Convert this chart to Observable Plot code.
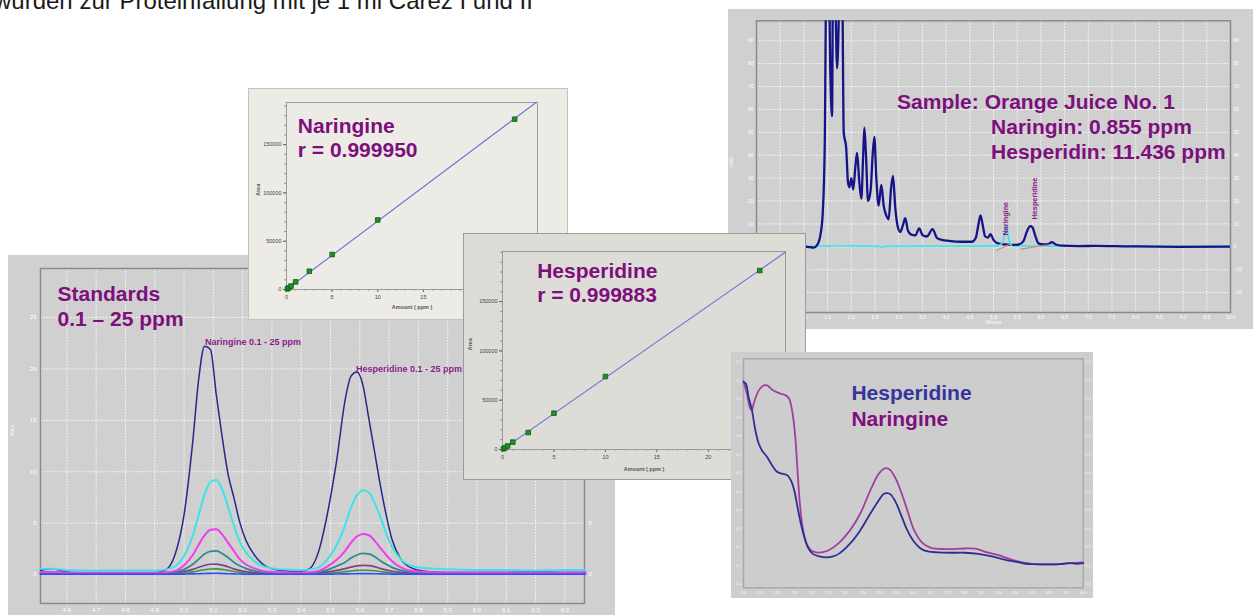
<!DOCTYPE html>
<html><head><meta charset="utf-8">
<script src="https://cdn.jsdelivr.net/npm/d3@7"></script>
<script src="https://cdn.jsdelivr.net/npm/@observablehq/plot@0.6"></script>
<style>
html,body{margin:0;padding:0;background:#fff;}
body{width:1253px;height:615px;overflow:hidden;position:relative;font-family:"Liberation Sans",Arial,sans-serif;}
.panel{position:absolute;overflow:hidden;}
.panel svg{display:block;}
#caption{position:absolute;left:0;top:0;}
</style></head><body>
<svg id="caption" width="620" height="20"><text x="-6" y="8.5" font-family="Liberation Sans, Arial, sans-serif" font-size="24" fill="#1a1a1a">wurden zur Proteinfällung mit je 1 ml Carez I und II</text></svg>
<div class="panel" id="std" style="left:8px;top:255px;width:607px;height:360px;background:#d0d0d0;z-index:1"></div>
<div class="panel" id="nar" style="left:248px;top:88px;width:320px;height:232px;background:#ecebe6;box-shadow:inset 0 0 0 1px #c2c2c0;z-index:2"></div>
<div class="panel" id="sample" style="left:728px;top:9px;width:525px;height:320px;background:#d0d0d0;z-index:2"></div>
<div class="panel" id="hes" style="left:463px;top:233px;width:343px;height:247px;background:#dddcd7;box-shadow:inset 0 0 0 1px #9c9c9c;z-index:3"></div>
<div class="panel" id="uv" style="left:731px;top:352px;width:362px;height:246px;background:#cdcdcd;z-index:4"></div>
<script>
// ---------- data ----------
const stdTime = [4.51,4.55,4.6,4.7,4.8,4.9,4.94,4.97,5.0,5.03,5.05,5.07,5.09,5.11,5.13,5.15,5.17,5.19,5.21,5.24,5.28,5.33,5.4,5.43,5.46,5.49,5.52,5.55,5.57,5.59,5.61,5.63,5.65,5.67,5.69,5.71,5.74,5.78,5.83,5.9,6.0,6.1,6.2,6.3,6.37];
const std25ppm = [0.4,0.55,0.25,0.1,0.1,0.15,0.5,2.0,5.8,13.0,19.0,22.2,21.9,17.5,13.4,9.8,7.5,5.1,3.4,1.9,0.8,0.4,0.3,0.6,2.3,6.0,10.9,17.0,19.3,19.7,18.5,15.3,12.0,8.7,5.8,3.4,1.5,0.6,0.3,0.2,0.2,0.2,0.3,0.2,0.2];
const std10ppm = [0.55,0.55,0.45,0.4,0.4,0.4,0.5,0.8,1.8,3.8,5.8,7.8,9.0,9.2,8.3,6.6,4.8,3.2,2.2,1.3,0.7,0.5,0.45,0.5,0.7,1.5,2.8,4.8,6.5,7.7,8.2,8.0,7.0,5.6,4.0,2.7,1.5,0.8,0.6,0.5,0.45,0.45,0.4,0.45,0.45];
const std5ppm = [0.25,0.25,0.2,0.2,0.2,0.2,0.22,0.35,0.9,1.9,2.9,3.8,4.35,4.4,3.9,3.1,2.3,1.5,1.0,0.6,0.3,0.22,0.2,0.22,0.35,0.8,1.4,2.3,3.1,3.7,3.95,3.85,3.3,2.6,1.9,1.3,0.7,0.35,0.25,0.2,0.2,0.2,0.2,0.2,0.2];
const std2p5ppm = [0.15,0.15,0.15,0.15,0.15,0.15,0.17,0.25,0.5,1.0,1.5,2.0,2.25,2.3,2.05,1.65,1.2,0.85,0.6,0.35,0.2,0.15,0.15,0.16,0.25,0.45,0.8,1.2,1.6,1.9,2.05,2.0,1.75,1.35,1.0,0.7,0.4,0.2,0.15,0.15,0.15,0.15,0.15,0.15,0.15];
const std1ppm = [0.1,0.1,0.1,0.1,0.1,0.1,0.12,0.17,0.3,0.5,0.7,0.88,1.0,1.02,0.92,0.75,0.55,0.4,0.28,0.18,0.12,0.1,0.1,0.1,0.15,0.25,0.4,0.58,0.72,0.84,0.88,0.86,0.76,0.6,0.45,0.32,0.2,0.12,0.1,0.1,0.1,0.1,0.1,0.1,0.1];
const std0p5ppm = [0.05,0.05,0.05,0.05,0.05,0.05,0.06,0.09,0.15,0.26,0.37,0.47,0.54,0.55,0.5,0.4,0.3,0.21,0.14,0.09,0.06,0.05,0.05,0.05,0.08,0.12,0.19,0.28,0.34,0.4,0.42,0.41,0.36,0.29,0.21,0.15,0.09,0.06,0.05,0.05,0.05,0.05,0.05,0.05,0.05];
const std0p1ppm = [0.02,0.02,0.02,0.02,0.02,0.02,0.02,0.03,0.04,0.06,0.08,0.1,0.11,0.12,0.1,0.08,0.06,0.05,0.03,0.02,0.02,0.02,0.02,0.02,0.03,0.03,0.05,0.06,0.07,0.08,0.09,0.09,0.08,0.06,0.05,0.04,0.03,0.02,0.02,0.02,0.02,0.02,0.02,0.02,0.02];
const stdTickLabels = [4.6,4.7,4.8,4.9,5.0,5.1,5.2,5.3,5.4,5.5,5.6,5.7,5.8,5.9,6.0,6.1,6.2,6.3];
const stdYTicks = [0,5,10,15,20,25];

const calibAmounts = [0.1,0.25,0.5,1,2.5,5,10,25];
const naringineAreas = [700,1800,3600,7900,18900,36200,72000,176300];
const hesperidineAreas = [700,1800,3600,7500,17200,36800,74000,181500];
const calibXTicks = [0,5,10,15,20,25];
const calibYTicks = [0,50000,100000,150000];

const sampleTime = [0,0.5,1.0,1.074,1.208,1.278,1.348,1.397,1.44,1.475,1.524,1.559,1.594,1.615,1.65,1.7,1.77,1.805,1.84,1.861,1.889,1.931,1.96,2.0,2.04,2.086,2.121,2.17,2.212,2.247,2.275,2.31,2.353,2.409,2.45,2.486,2.528,2.577,2.633,2.683,2.732,2.788,2.837,2.879,2.928,2.978,3.034,3.083,3.139,3.195,3.265,3.35,3.434,3.504,3.596,3.715,3.806,3.912,4.052,4.333,4.544,4.628,4.684,4.726,4.768,4.824,4.881,4.937,5.0,5.091,5.246,5.386,5.527,5.632,5.702,5.772,5.822,5.878,5.948,6.053,6.159,6.229,6.313,6.44,6.79,7.14,7.84,8.9,10];
const sampleMau = [0,0.1,0.1,0,-0.4,0.7,5.1,14.6,45.2,120,120,75,57,120,120,78,120,120,50,47,44,28,26,30,25,35,41,28,21,38,52,40,20,25,40,48,30,18,27,18,14,12,25,31,17,9,6.5,9,12.5,7,5.3,5,8,5,4.5,7.7,3.9,3,2.6,2.2,2.2,4,10,13.7,10,4.5,4,5.5,3,1.5,1,0.8,1,2.5,6.5,9,8.5,5,1.5,1,1.2,2,1,0.5,0.3,0.4,0.2,0,0.1];
const standardOverlayTime = [0,1.0,1.5,2.0,2.6,2.65,2.7,3.5,4.5,5.1,5.18,5.23,5.267,5.3,5.34,5.38,5.5,6.0,7.0,8.0,9.0,10];
const standardOverlayMau = [0.2,0.2,0.3,0.4,0.2,-0.4,0.2,0.3,0.3,0.4,1.5,5,9.5,6,2,0.5,0.4,0.3,0.3,0.2,0.2,0.2];
const integrationNarTime = [5.07,5.33];
const integrationNarMau = [-1.5,1.0];
const integrationHesTime = [5.58,6.2];
const integrationHesMau = [-1.0,1.0];
const sampleXTicks = [0.5,1.0,1.5,2.0,2.5,3.0,3.5,4.0,4.5,5.0,5.5,6.0,6.5,7.0,7.5,8.0,8.5,9.0,9.5,10.0];
const sampleYTicks = [-20,-10,0,10,20,30,40,50,60,70,80,90];

const hespUvNm = [200.0,201.4,203.0,205.0,207.0,209.0,210.9,213.9,216.9,219.9,222.9,225.9,227.9,229.9,231.8,233.8,235.8,237.8,240.8,244.8,248.8,252.7,256.7,262.7,268.7,274.6,279.6,282.6,284.6,286.6,289.6,292.5,296.5,300.5,304.5,308.5,314.4,322.4,330.3,338.3,346.3,354.2,362.2,366.2,370.1,378.1,386.1,392.0,396.0,400.0];
const hespUvAbs = [1.092,1.083,1.011,0.939,0.830,0.758,0.722,0.686,0.641,0.605,0.596,0.587,0.560,0.505,0.415,0.325,0.253,0.199,0.162,0.148,0.143,0.148,0.166,0.217,0.289,0.379,0.451,0.487,0.491,0.484,0.442,0.379,0.289,0.226,0.190,0.175,0.170,0.168,0.168,0.162,0.148,0.130,0.116,0.108,0.106,0.105,0.106,0.112,0.108,0.112];
const narUvNm = [200.0,202.0,204.0,205.0,206.0,209.0,211.9,213.9,216.9,220.9,224.9,226.9,228.9,230.5,231.8,233.2,234.8,236.8,239.8,242.8,246.8,250.7,256.7,262.7,268.7,274.6,279.6,282.6,284.6,286.6,289.6,292.5,296.5,300.5,305.5,310.4,318.4,330.3,336.3,342.3,350.2,358.2,364.2,370.1,378.1,386.1,392.0,400.0];
const narUvAbs = [1.097,1.029,0.948,0.942,0.975,1.047,1.074,1.074,1.051,1.032,1.020,1.002,0.921,0.794,0.614,0.433,0.307,0.226,0.181,0.170,0.171,0.184,0.226,0.289,0.379,0.505,0.596,0.623,0.625,0.614,0.569,0.505,0.397,0.289,0.220,0.195,0.188,0.191,0.190,0.173,0.155,0.130,0.116,0.108,0.105,0.106,0.112,0.116];
const uvXTicks = [200,210,220,230,240,250,260,270,280,290,300,310,320,330,340,350,360,370,380,390,400];
const uvYTicks = [0,0.1,0.2,0.3,0.4,0.5,0.6,0.7,0.8,0.9,1.0,1.1,1.2];

// ---------- helpers ----------
const FONT = '"Liberation Sans", Arial, Helvetica, sans-serif';
const PURPLE = "#7d0f7d";
const pairs = (xs, ys) => xs.map((x, i) => ({x, y: ys[i]}));
const mount = (id, el) => document.getElementById(id).appendChild(el);
const title = (txt, dx, dy, fill = PURPLE) => Plot.text([txt], {text: d => d, frameAnchor: "top-left", dx, dy, textAnchor: "start", lineAnchor: "bottom", fontSize: 21, fontWeight: "bold", fill});

// ---------- Standards chromatogram ----------
const stdSeries = [
  {v: std25ppm, c: "#27278a", w: 1.5},
  {v: std0p5ppm, c: "#3a9a3a", w: 1.6},
  {v: std1ppm, c: "#8c3a8c", w: 1.7},
  {v: std2p5ppm, c: "#2b8c8a", w: 1.8},
  {v: std5ppm, c: "#f03cf0", w: 2.0},
  {v: std0p1ppm, c: "#2f4cff", w: 1.6},
  {v: std10ppm, c: "#40e2e8", w: 2.0}
];
mount("std", Plot.plot({
  width: 607, height: 360, marginLeft: 32, marginRight: 31, marginTop: 13, marginBottom: 12,
  style: {background: "transparent", fontFamily: FONT, overflow: "visible"},
  x: {domain: [4.51, 6.367]},
  y: {domain: [-2.82, 29.77]},
  marks: [
    Plot.gridX(stdTickLabels, {stroke: "#ffffff", strokeOpacity: 0.9, strokeDasharray: "1.5,1.5"}),
    Plot.gridY(stdYTicks.slice(1), {stroke: "#ffffff", strokeOpacity: 0.9, strokeDasharray: "1.5,1.5"}),
    Plot.axisX(stdTickLabels, {tickSize: 0, tickPadding: 4, fontSize: 6, fill: "#ffffff", tickFormat: d3.format(".1f"), label: null}),
    Plot.axisY(stdYTicks, {tickSize: 0, tickPadding: 4, fontSize: 6, fill: "#ffffff", label: null}),
    Plot.axisY(stdYTicks, {anchor: "right", tickSize: 0, tickPadding: 4, fontSize: 6, fill: "#ffffff", label: null}),
    Plot.text(["mAU"], {text: d => d, frameAnchor: "left", dx: -28, rotate: -90, fontSize: 5, fill: "#ffffff"}),
    Plot.frame({stroke: "#8a8a8a", strokeWidth: 1.5}),
    ...stdSeries.map(s => Plot.line(pairs(stdTime, s.v), {x: "x", y: "y", stroke: s.c, strokeWidth: s.w, curve: "monotone-x"})),
    title("Standards", 17, 32),
    title("0.1 – 25 ppm", 17, 57),
    Plot.text(["Naringine 0.1 - 25 ppm"], {text: d => d, frameAnchor: "top-left", dx: 164.5, dy: 70.3, textAnchor: "start", fontSize: 9, fontWeight: "bold", fill: "#8b1a8b"}),
    Plot.text(["Hesperidine 0.1 - 25 ppm"], {text: d => d, frameAnchor: "top-left", dx: 315.5, dy: 97, textAnchor: "start", fontSize: 9, fontWeight: "bold", fill: "#8b1a8b"})
  ]
}));

// ---------- calibration plots ----------
function calibration(id, areas, name, r, o) {
  const slope = d3.sum(calibAmounts, (x, i) => x * areas[i]) / d3.sum(calibAmounts, x => x * x);
  const xmax = 27.5;
  return Plot.plot({
    width: o.w, height: o.h, marginLeft: o.ml, marginRight: o.mr, marginTop: o.mt, marginBottom: o.mb,
    style: {background: "transparent", fontFamily: FONT, overflow: "visible"},
    x: {domain: [0, xmax]},
    y: {domain: [0, o.ymax]},
    marks: [
      Plot.axisX(d3.range(0, 28, 1), {tickSize: 1.5, tickFormat: () => "", stroke: "#777", label: null}),
      Plot.axisY(d3.range(0, o.ymax, 10000), {tickSize: 1.5, tickFormat: () => "", stroke: "#777", label: null}),
      Plot.axisX(calibXTicks, {tickSize: 3, tickPadding: 3, fontSize: 5.5, fill: "#444", stroke: "#666", label: null}),
      Plot.axisY(calibYTicks, {tickSize: 3, tickPadding: 2, fontSize: 5.5, fill: "#444", stroke: "#666", tickFormat: d3.format("d"), label: null}),
      Plot.text(["Amount ( ppm )"], {text: d => d, frameAnchor: "bottom", dy: o.labDy, fontSize: 5.5, fontWeight: "bold", fill: "#555"}),
      Plot.text(["Area"], {text: d => d, frameAnchor: "left", dx: o.areaDx, rotate: -90, fontSize: 5.5, fontWeight: "bold", fill: "#555"}),
      Plot.frame({stroke: "#9a9a9a", strokeWidth: 1}),
      Plot.line([{x: 0, y: 0}, {x: xmax, y: slope * xmax}], {x: "x", y: "y", stroke: "#6e6ee0", strokeWidth: 1.1, clip: true}),
      Plot.dot(pairs(calibAmounts, areas), {x: "x", y: "y", symbol: "square", r: 2.6, fill: "#1f9024", stroke: "#0e5c12", strokeWidth: 0.8}),
      title(name, o.tdx, o.tdy),
      title(r, o.tdx, o.tdy + 24)
    ]
  });
}
mount("nar", calibration("nar", naringineAreas, "Naringine", "r = 0.999950",
  {w: 320, h: 232, ml: 38, mr: 31, mt: 14, mb: 31, ymax: 193600, labDy: 19, areaDx: -28, tdx: 11.3, tdy: 30.3}));
mount("hes", calibration("hes", hesperidineAreas, "Hesperidine", "r = 0.999883",
  {w: 343, h: 247, ml: 39, mr: 21, mt: 18, mb: 31, ymax: 200800, labDy: 21, areaDx: -32, tdx: 34.7, tdy: 26}));

// ---------- Sample chromatogram ----------
mount("sample", Plot.plot({
  width: 525, height: 320, marginLeft: 28, marginRight: 23, marginTop: 11.3, marginBottom: 17,
  style: {background: "transparent", fontFamily: FONT, overflow: "visible"},
  x: {domain: [0, 10]},
  y: {domain: [-28.7, 98.7]},
  marks: [
    Plot.gridX(sampleXTicks, {stroke: "#ffffff", strokeOpacity: 0.9, strokeDasharray: "1.5,1.5"}),
    Plot.gridY(sampleYTicks, {stroke: "#ffffff", strokeOpacity: 0.9, strokeDasharray: "1.5,1.5"}),
    Plot.axisX(sampleXTicks, {tickSize: 0, tickPadding: 3, fontSize: 5, fill: "#ffffff", tickFormat: d3.format(".1f"), label: null}),
    Plot.axisY(sampleYTicks, {tickSize: 0, tickPadding: 3, fontSize: 5, fill: "#ffffff", label: null}),
    Plot.axisY(sampleYTicks, {anchor: "right", tickSize: 0, tickPadding: 3, fontSize: 5, fill: "#ffffff", label: null}),
    Plot.text(["mAU"], {text: d => d, frameAnchor: "left", dx: -25, rotate: -90, fontSize: 4.5, fill: "#ffffff"}),
    Plot.text(["Minutes"], {text: d => d, frameAnchor: "bottom", dy: 11, fontSize: 4.5, fill: "#ffffff"}),
    Plot.frame({stroke: "#8a8a8a", strokeWidth: 1.5}),
    Plot.line(pairs(standardOverlayTime, standardOverlayMau), {x: "x", y: "y", stroke: "#3fe6ec", strokeWidth: 1.6, curve: "monotone-x"}),
    Plot.line(pairs(sampleTime, sampleMau), {x: "x", y: "y", stroke: "#141488", strokeWidth: 2.3, curve: "monotone-x", clip: true}),
    Plot.line(pairs(standardOverlayTime, standardOverlayMau).filter(d => d.x > 5 && d.x < 5.5), {x: "x", y: "y", stroke: "#3fe6ec", strokeWidth: 1.6, curve: "monotone-x"}),
    Plot.line(pairs(integrationNarTime, integrationNarMau), {x: "x", y: "y", stroke: "#ea7f70", strokeWidth: 1.2}),
    Plot.line(pairs(integrationHesTime, integrationHesMau), {x: "x", y: "y", stroke: "#ea7f70", strokeWidth: 1.2}),
    Plot.text(["Naringine"], {text: d => d, frameAnchor: "top-left", dx: 246.3, dy: 214.7, rotate: -90, textAnchor: "start", fontSize: 7.3, fontWeight: "bold", fill: "#8b1a8b"}),
    Plot.text(["Hesperidine"], {text: d => d, frameAnchor: "top-left", dx: 275.6, dy: 198.7, rotate: -90, textAnchor: "start", fontSize: 7.3, fontWeight: "bold", fill: "#8b1a8b"}),
    title("Sample: Orange Juice No. 1", 140.6, 87.7),
    title("Naringin: 0.855 ppm", 234.6, 112.7),
    title("Hesperidin: 11.436 ppm", 234.6, 137.7)
  ]
}));

// ---------- UV spectra ----------
mount("uv", Plot.plot({
  width: 362, height: 246, marginLeft: 12, marginRight: 10.3, marginTop: 6.3, marginBottom: 10.7,
  style: {background: "transparent", fontFamily: FONT, overflow: "visible"},
  x: {domain: [200, 400]},
  y: {domain: [-0.0217, 1.218]},
  marks: [
    Plot.axisX(uvXTicks, {tickSize: 0, tickPadding: 3, fontSize: 4, fill: "#f4f4f4", label: null}),
    Plot.axisY(uvYTicks, {tickSize: 0, tickPadding: 2, fontSize: 4, fill: "#f4f4f4", tickFormat: d3.format(".1f"), label: null}),
    Plot.axisY(uvYTicks, {anchor: "right", tickSize: 0, tickPadding: 2, fontSize: 4, fill: "#f4f4f4", tickFormat: d3.format(".1f"), label: null}),
    Plot.frame({stroke: "#a9a9a9", strokeWidth: 1.5}),
    Plot.line(pairs(narUvNm, narUvAbs), {x: "x", y: "y", stroke: "#a23f9e", strokeWidth: 1.8, curve: "catmull-rom"}),
    Plot.line(pairs(hespUvNm, hespUvAbs), {x: "x", y: "y", stroke: "#2e2e96", strokeWidth: 1.8, curve: "catmull-rom"}),
    title("Hesperidine", 107.9, 41.5, "#35359a"),
    title("Naringine", 107.9, 67.1, PURPLE)
  ]
}));
</script>
</body></html>
